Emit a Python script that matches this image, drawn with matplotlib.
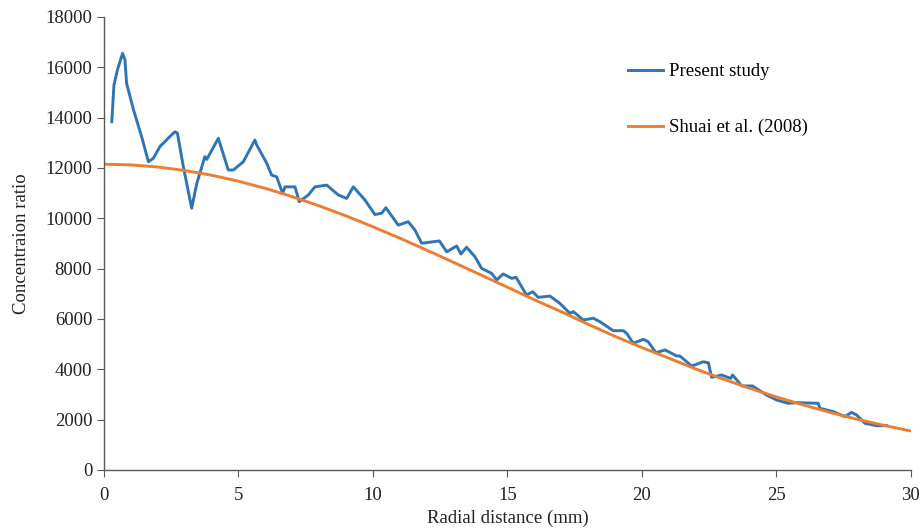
import matplotlib.pyplot as plt

# Present study
present_x = [0.29, 0.37, 0.50, 0.69, 0.78, 0.84, 1.10, 1.40, 1.65, 1.83, 2.08, 2.40, 2.64, 2.73,
             2.95, 3.26, 3.45, 3.75, 3.82, 4.25, 4.62, 4.81, 5.18, 5.61, 5.68, 6.05, 6.23, 6.42,
             6.64, 6.73, 7.10, 7.26, 7.60, 7.84, 8.28, 8.71, 9.02, 9.27, 9.70, 10.07, 10.32,
             10.48, 10.94, 11.31, 11.56, 11.81, 12.47, 12.74, 13.11, 13.27, 13.48, 13.79, 14.04,
             14.41, 14.60, 14.84, 15.16, 15.32, 15.71, 15.94, 16.14, 16.58, 16.95, 17.32, 17.45,
             17.82, 18.19, 18.44, 18.93, 19.31, 19.43, 19.68, 20.05, 20.23, 20.52, 20.86, 21.29,
             21.41, 21.85, 22.28, 22.47, 22.59, 22.96, 23.30, 23.37, 23.71, 24.11, 24.63, 25.01,
             25.44, 25.75, 26.55, 26.62, 27.11, 27.55, 27.79, 27.98, 28.29, 28.72, 29.10]
present_y = [13840, 15300, 15900, 16555, 16290, 15360, 14300, 13240, 12250, 12380, 12850, 13200, 13440, 13380,
             12050, 10400, 11390, 12450, 12340, 13180, 11920, 11920, 12250, 13110, 12910, 12190, 11720, 11650,
             10990, 11250, 11250, 10660, 10930, 11250, 11320, 10930, 10790, 11250, 10730, 10150, 10200,
             10420, 9730, 9865, 9535, 9010, 9100, 8670, 8900, 8580, 8850, 8475, 8010,
             7815, 7550, 7790, 7615, 7655, 6950, 7085, 6860, 6910, 6620, 6225, 6290,
             5960, 6030, 5890, 5535, 5535, 5430, 5035, 5190, 5100, 4660, 4770, 4530,
             4530, 4130, 4300, 4260, 3680, 3775, 3640, 3775, 3340, 3340, 2980, 2780,
             2650, 2675, 2650, 2450, 2320, 2120, 2290, 2185, 1855, 1760, 1760]

# Shuai et al. (2008)
shuai_x = list(range(0, 31))
shuai_y = [12150, 12122, 12039, 11902, 11713, 11474, 11190, 10860, 10494, 10096, 9664,
           9210, 8735, 8249, 7756, 7262, 6763, 6289, 5790, 5309, 4865, 4444, 4012,
           3619, 3249, 2903, 2583, 2287, 2015, 1773, 1548]

plt.rcParams['font.family'] = ['Liberation Serif', 'DejaVu Serif']

fig = plt.figure(figsize=(9.22, 5.31), dpi=100)
ax = fig.add_axes([0.1128, 0.1149, 0.8752, 0.8531])

ax.plot(present_x, present_y, color='#2E75B6', lw=2.1, label='Present study')
ax.plot(shuai_x, shuai_y, color='#ED7D31', lw=2.1, label='Shuai et al. (2008)')

ax.set_xlim(0, 30)
ax.set_ylim(0, 18000)
ax.set_xticks(range(0, 31, 5))
ax.set_yticks(range(0, 18001, 2000))

for s in ['top', 'right']:
    ax.spines[s].set_visible(False)
for s in ['left', 'bottom']:
    ax.spines[s].set_color('#595959')
    ax.spines[s].set_linewidth(1.0)
ax.tick_params(colors='#595959', labelcolor='#222222', labelsize=13.5, length=5, direction='out')
ax.tick_params(axis='x', pad=7)

ax.set_xlabel('Radial distance (mm)', fontsize=13.5, color='#222222', labelpad=4)
ax.set_ylabel('Concentraion ratio', fontsize=13.5, color='#222222', labelpad=11)

ax.legend(loc='upper left', bbox_to_anchor=(0.628, 0.935), frameon=False, fontsize=13.5,
          handlelength=1.9, handletextpad=0.3, labelspacing=2.05)

fig.savefig('out.png', dpi=100)
